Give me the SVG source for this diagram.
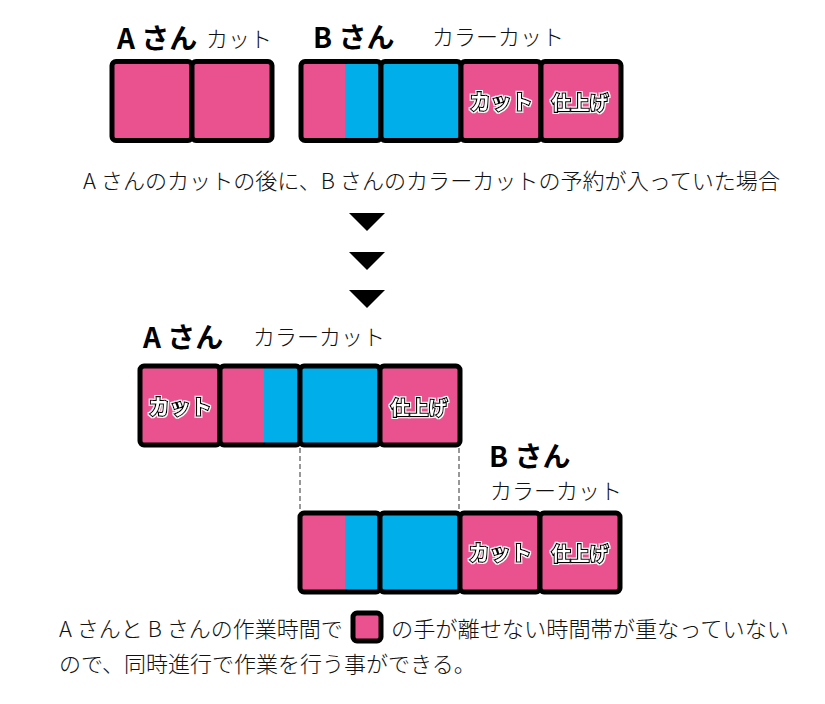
<svg xmlns="http://www.w3.org/2000/svg" width="825" height="704" viewBox="0 0 825 704">
<defs>
<filter id="halo" x="-10%" y="-20%" width="120%" height="140%">
<feMorphology in="SourceAlpha" operator="dilate" radius="1" result="d"/>
<feFlood flood-color="#ffffff"/>
<feComposite in2="d" operator="in" result="w"/>
<feMerge><feMergeNode in="w"/><feMergeNode in="SourceGraphic"/></feMerge>
</filter>
</defs>
<style>
.cell{stroke:#000;stroke-width:5;}
.pk{fill:#E9528F;}
.bl{fill:#00AEEA;}
.outline{fill:none;stroke:#000;stroke-width:5;}
.name{font-family:"Noto Sans CJK JP","Liberation Sans",sans-serif;font-weight:700;font-size:28px;fill:#000;}
.menu{font-family:"Noto Sans CJK JP","Liberation Sans",sans-serif;font-weight:300;font-size:22px;fill:#111;}
.lab{font-family:"Noto Sans CJK JP","Liberation Sans",sans-serif;font-weight:700;fill:#fff;stroke:#000;stroke-width:2.5;paint-order:stroke;text-anchor:middle;filter:url(#halo);}
.body{font-family:"Noto Sans CJK JP","Liberation Sans",sans-serif;font-weight:300;font-size:22px;fill:#111;}
.dash{stroke:#777;stroke-width:1.5;stroke-dasharray:5 3;fill:none;}
</style>
<rect width="825" height="704" fill="#fff"/>

<g id="top-a">
<text class="name" x="117" y="49">A さん</text>
<text class="menu" x="206" y="47">カット</text>
<rect class="cell pk" x="112" y="61.5" width="80" height="79" rx="4"/>
<rect class="cell pk" x="192" y="61.5" width="80" height="79" rx="4"/>
</g>

<g id="top-b">
<text class="name" x="313" y="48">B さん</text>
<text class="menu" x="432" y="45">カラーカット</text>
<rect class="pk" x="301" y="61.5" width="44" height="79"/>
<rect class="bl" x="345" y="61.5" width="36" height="79"/>
<rect class="outline" x="301" y="61.5" width="80" height="79" rx="4"/>
<rect class="cell bl" x="381" y="61.5" width="80" height="79" rx="4"/>
<rect class="cell pk" x="461" y="61.5" width="80" height="79" rx="4"/>
<rect class="cell pk" x="541" y="61.5" width="80" height="79" rx="4"/>
<text class="lab" x="501" y="109" font-size="21">カット</text>
<text class="lab" x="580" y="110" font-size="19">仕上げ</text>
</g>

<g id="caption-top">
<text class="body" x="83" y="189" textLength="697" lengthAdjust="spacingAndGlyphs">A さんのカットの後に、B さんのカラーカットの予約が入っていた場合</text>
</g>

<g id="arrows">
<polygon points="349,213 385,213 367,231" fill="#000"/>
<polygon points="349,252 385,252 367,270" fill="#000"/>
<polygon points="349,290 385,290 367,308" fill="#000"/>
</g>

<g id="mid-a">
<text class="name" x="143" y="348">A さん</text>
<text class="menu" x="253" y="345">カラーカット</text>
<rect class="cell pk" x="140" y="366" width="80" height="79" rx="4"/>
<rect class="pk" x="220" y="366" width="44" height="79"/>
<rect class="bl" x="264" y="366" width="36" height="79"/>
<rect class="outline" x="220" y="366" width="80" height="79" rx="4"/>
<rect class="cell bl" x="300" y="366" width="80" height="79" rx="4"/>
<rect class="cell pk" x="380" y="366" width="80" height="79" rx="4"/>
<text class="lab" x="180" y="414" font-size="21">カット</text>
<text class="lab" x="419" y="415" font-size="19">仕上げ</text>
</g>

<g id="connectors">
<line class="dash" x1="300" y1="448" x2="300" y2="510"/>
<line class="dash" x1="459" y1="448" x2="459" y2="510"/>
</g>

<g id="bot-b">
<text class="name" x="489" y="467">B さん</text>
<text class="menu" x="490" y="499">カラーカット</text>
<rect class="pk" x="300" y="513" width="45" height="79"/>
<rect class="bl" x="345" y="513" width="35" height="79"/>
<rect class="outline" x="300" y="513" width="80" height="79" rx="4"/>
<rect class="cell bl" x="380" y="513" width="80" height="79" rx="4"/>
<rect class="cell pk" x="460" y="513" width="80" height="79" rx="4"/>
<rect class="cell pk" x="540" y="513" width="80" height="79" rx="4"/>
<text class="lab" x="500" y="560" font-size="21">カット</text>
<text class="lab" x="580" y="561" font-size="19">仕上げ</text>
</g>

<g id="caption-bottom">
<text class="body" x="59" y="637">A さんと B さんの作業時間で</text>
<rect class="cell pk" x="353" y="613" width="28" height="28" rx="4"/>
<text class="body" x="391" y="637" textLength="398" lengthAdjust="spacingAndGlyphs">の手が離せない時間帯が重なっていない</text>
<text class="body" x="59" y="672">ので、同時進行で作業を行う事ができる。</text>
</g>
</svg>
